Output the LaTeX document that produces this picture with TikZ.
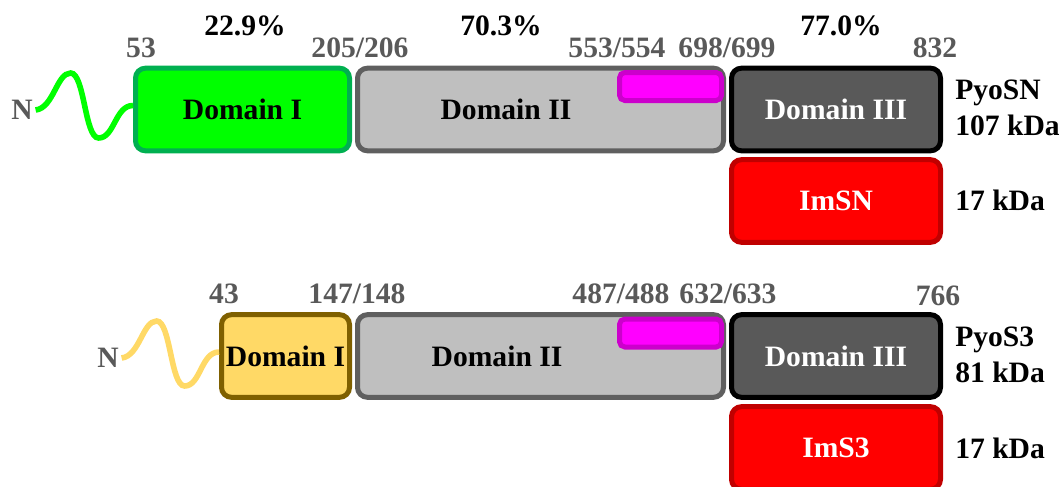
\documentclass[tikz,border=0pt]{standalone}
\usepackage{fontspec}
\setmainfont{Liberation Serif}
\usetikzlibrary{positioning}
\definecolor{numgray}{HTML}{595959}
\definecolor{dIfill}{HTML}{00FF00}
\definecolor{dIdraw}{HTML}{00B050}
\definecolor{dIyfill}{HTML}{FFD966}
\definecolor{dIydraw}{HTML}{7F6000}
\definecolor{dIIfill}{HTML}{BFBFBF}
\definecolor{dIIdraw}{HTML}{5F5F5F}
\definecolor{dIIIfill}{HTML}{595959}
\definecolor{imfill}{HTML}{FF0000}
\definecolor{imdraw}{HTML}{C00000}
\definecolor{magfill}{HTML}{FF00FF}
\definecolor{magdraw}{HTML}{CC00CC}

\begin{document}
\begin{tikzpicture}[x=0.75pt,y=-0.75pt,font=\fontsize{22.2}{26.5}\selectfont\bfseries,
  dom/.style={draw,line width=3.75pt,rounded corners=7.5pt,inner sep=0pt,minimum height=62pt},
  dII/.style={dom,fill=dIIfill,draw=dIIdraw,minimum width=274.5pt},
  dIII/.style={dom,fill=dIIIfill,draw=black,text=white,minimum width=156.75pt},
  imm/.style={dom,fill=imfill,draw=imdraw,text=white,minimum width=156.75pt},
  mag/.style={draw=magdraw,fill=magfill,line width=3.75pt,rounded corners=4pt,minimum width=76.5pt,minimum height=21pt,inner sep=0pt},
  resnum/.style={text=numgray,anchor=base,inner sep=0pt},
  pct/.style={anchor=base,inner sep=0pt},
  mass/.style={anchor=base west,inner sep=0pt,align=left},
  nterm/.style={text=numgray,inner sep=2pt},
  tail/.style={line width=4.2pt}]
\useasboundingbox (0,0) rectangle (1059,486);
\clip (0,0) rectangle (1059,486);

% PyoSN
\node[dom,fill=dIfill,draw=dIdraw,minimum width=160.5pt] (d1a) at (242.5,109.5) {Domain I};
\node[dII,label={[xshift=-25.9pt]center:Domain II}] (d2a) at (540.5,109.5) {};
\node[mag] (maga) at (670.5,86.5) {};
\node[dIII] (d3a) at (836,109.5) {Domain III};
\node[imm] (ima) at (836,201) {ImSN};
\node[nterm] (na) at (22,110) {N};
\draw[tail,dIfill] (na.east) .. controls +(18,-2) and +(-14,0) .. ++(35,-37)
  .. controls +(14,0) and +(-14,0) .. ++(28,65)
  .. controls +(16,0) and +(-18,0) .. ([yshift=3pt]d1a.west);
\node[resnum] (p53) at (141,57) {53};
\node[resnum] (p205) at (360,57) {205/206};
\node[resnum] (p553) at (617,57) {553/554};
\node[resnum] (p698) at (727,57) {698/699};
\node[resnum] (p832) at (935,57) {832};
\node[pct] (pc1) at (245,35) {22.9\%};
\node[pct] (pc2) at (501,35) {70.3\%};
\node[pct] (pc3) at (841,35) {77.0\%};
\node[mass] (ma) at (955,135) {PyoSN\\107 kDa};
\node[mass] (mia) at (955,210) {17 kDa};

% PyoS3
\node[dom,fill=dIyfill,draw=dIydraw,minimum width=96pt] (d1b) at (285.5,356) {Domain I};
\node[dII,label={[xshift=-32.6pt]center:Domain II}] (d2b) at (540.5,356) {};
\node[mag] (magb) at (670.5,333) {};
\node[dIII] (d3b) at (836,356) {Domain III};
\node[imm] (imb) at (836,448) {ImS3};
\node[nterm] (nb) at (108,358) {N};
\draw[tail,dIyfill] (nb.east) .. controls +(18,-2) and +(-14,0) .. ++(35,-37)
  .. controls +(14,0) and +(-14,0) .. ++(28,65)
  .. controls +(16,0) and +(-18,0) .. ([yshift=3pt]d1b.west);
\node[resnum] (p43) at (224,303) {43};
\node[resnum] (p147) at (357,303) {147/148};
\node[resnum] (p487) at (621,303) {487/488};
\node[resnum] (p632) at (728,303) {632/633};
\node[resnum] (p766) at (938,305) {766};
\node[mass] (mb) at (955,382) {PyoS3\\81 kDa};
\node[mass] (mib) at (955,458) {17 kDa};
\end{tikzpicture}
\end{document}
